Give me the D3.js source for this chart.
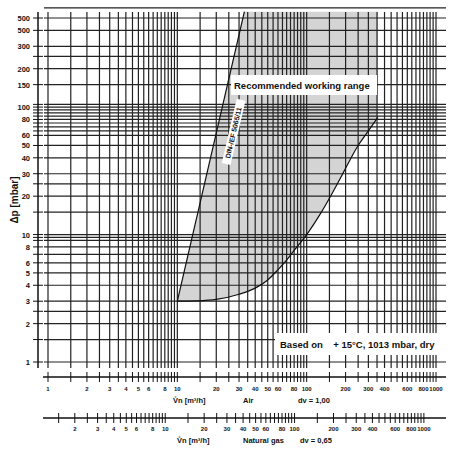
<!DOCTYPE html>
<meta charset="utf-8">
<style>
body { margin: 0; background: #fff; }
text { font-family: "Liberation Sans", Arial, sans-serif; font-weight: bold; fill: #111; }
.grid line { stroke: #222; stroke-width: 1.2px; }
</style>
<body>
<script src="https://d3js.org/d3.v7.min.js"></script>
<script>

// y tick labels (as printed) and their values
var yTickVals = [1, 2, 3, 4, 5, 6, 8, 10, 20, 30, 40, 50, 60, 80, 100, 150, 200, 300, 400, 500];
var yTickText = ["1", "2", "3", "4", "5", "6", "8", "10", "20", "30", "40", "50", "60", "80", "100", "150", "200", "300", "500", "500"];
// horizontal grid values
var yGrid = [1, 1.5, 2, 2.5, 3, 4, 5, 6, 7, 8, 9, 9.5, 10, 15, 20, 25, 30, 40, 50, 60, 65, 70, 75, 80, 85, 90, 95, 100, 105, 150, 200, 250, 300, 400, 500, 600];
// vertical grid mantissas per decade
var xMant = [1, 1.5, 2, 2.5, 3, 3.5, 4, 4.5, 5, 5.5, 6, 6.5, 7, 7.5, 8, 8.5, 9, 9.5];
var airTicks = [1, 2, 3, 4, 5, 6, 8, 10, 20, 30, 40, 50, 60, 80, 100, 200, 300, 400, 600, 800, 1000];
var gasTicks = [2, 3, 4, 5, 6, 8, 10, 20, 30, 40, 50, 60, 80, 100, 200, 300, 400, 600, 800, 1000];
var gasFactor = 0.806; // sqrt(0.65)

// working range: left limit line, lower curve, right edge
var leftLine = [[10, 3], [33, 560]];
var lowerCurve = [[10, 3], [14, 3.02], [20, 3.1], [30, 3.4], [40, 3.8], [50, 4.4], [60, 5.3], [70, 6.3], [80, 7.5], [100, 10], [130, 15], [180, 27], [250, 50], [300, 65], [355, 83]];
var topVal = 560, rightVal = 355;

var svg = d3.select("body").append("svg").attr("width", 461).attr("height", 451);

var x = d3.scaleLog().domain([1, 1000]).range([48, 436]);
var y = d3.scaleLog().domain([1, 500]).range([362, 18]);
var xR = [44, 446];

// shaded region
svg.append("path")
  .attr("d", d3.line().x(d => x(d[0])).y(d => y(d[1]))(leftLine.concat([[rightVal, topVal]], lowerCurve.slice().reverse())))
  .attr("fill", "#d4d4d4");

// grid
var g = svg.append("g").attr("class", "grid");
var xGrid = [];
[1, 10, 100].forEach(function(d) { xMant.forEach(function(m) { xGrid.push(m * d); }); });
xGrid.push(1000);
g.selectAll(".v").data(xGrid).enter().append("line")
  .attr("x1", d => x(d)).attr("x2", d => x(d)).attr("y1", 12).attr("y2", 368);
g.selectAll(".h").data(yGrid).enter().append("line")
  .attr("x1", xR[0]).attr("x2", xR[1]).attr("y1", d => y(d)).attr("y2", d => y(d));

// boundary lines
var line = d3.line().x(d => x(d[0])).y(d => y(d[1]));
svg.append("path").attr("d", line(leftLine)).attr("fill", "none").attr("stroke", "#111").attr("stroke-width", 1.2);
svg.append("path").attr("d", d3.line().curve(d3.curveMonotoneX).x(d => x(d[0])).y(d => y(d[1]))(lowerCurve))
  .attr("fill", "none").attr("stroke", "#111").attr("stroke-width", 1.2);

// y axis
svg.append("line").attr("x1", 38).attr("x2", 38).attr("y1", 12).attr("y2", 368).attr("stroke", "#111").attr("stroke-width", 1.5);
svg.selectAll(".yt").data(yGrid.filter(d => d <= 500)).enter().append("line")
  .attr("x1", 33).attr("x2", 43).attr("y1", d => y(d)).attr("y2", d => y(d)).attr("stroke", "#111");
svg.selectAll(".yl").data(yTickVals).enter().append("text")
  .attr("x", 30).attr("y", d => y(d) + 3).attr("text-anchor", "end").attr("font-size", 7.5)
  .text((d, i) => yTickText[i]);
svg.append("text").attr("transform", "translate(18,200) rotate(-90)").attr("text-anchor", "middle")
  .attr("font-size", 10).text("Δp [mbar]");

// air axis
var ax = svg.append("g");
ax.append("line").attr("x1", 43).attr("x2", 446).attr("y1", 377).attr("y2", 377).attr("stroke", "#111").attr("stroke-width", 1.5);
ax.selectAll("line.t").data(xGrid).enter().append("line")
  .attr("x1", d => x(d)).attr("x2", d => x(d)).attr("y1", 372).attr("y2", 382).attr("stroke", "#111");
ax.selectAll("text").data(airTicks).enter().append("text")
  .attr("x", d => x(d)).attr("y", 391).attr("text-anchor", "middle").attr("font-size", 6).text(d => d);
svg.append("text").attr("x", 173).attr("y", 403).attr("font-size", 7.5).text("V̊n [m³/h]");
svg.append("text").attr("x", 243).attr("y", 403).attr("font-size", 7.5).text("Air");
svg.append("text").attr("x", 298).attr("y", 403).attr("font-size", 7.5).text("dv = 1,00");

// natural gas axis
var gx = d3.scaleLog().domain([1 / gasFactor, 1000 / gasFactor]).range([48, 436]);
var gasGrid = xGrid.filter(d => d >= 1.5 && d <= 1000);
svg.append("line").attr("x1", 43).attr("x2", 446).attr("y1", 418).attr("y2", 418).attr("stroke", "#111").attr("stroke-width", 1.5);
svg.selectAll("line.gt").data(gasGrid).enter().append("line")
  .attr("x1", d => gx(d)).attr("x2", d => gx(d)).attr("y1", 413).attr("y2", 423).attr("stroke", "#111");
svg.selectAll("text.gl").data(gasTicks).enter().append("text")
  .attr("x", d => gx(d)).attr("y", 431).attr("text-anchor", "middle").attr("font-size", 6).text(d => d);
svg.append("text").attr("x", 177).attr("y", 443).attr("font-size", 7.5).text("V̊n [m³/h]");
svg.append("text").attr("x", 243).attr("y", 443).attr("font-size", 7.5).text("Natural gas");
svg.append("text").attr("x", 300).attr("y", 443).attr("font-size", 7.5).text("dv = 0,65");

// labels
svg.append("rect").attr("x", 231).attr("y", 75).attr("width", 146).attr("height", 20).attr("fill", "#fff");
svg.append("text").attr("x", 234).attr("y", 89).attr("font-size", 9.5).text("Recommended working range");
svg.append("rect").attr("x", 275).attr("y", 333).attr("width", 175).attr("height", 22).attr("fill", "#fff");
svg.append("text").attr("x", 280).attr("y", 348).attr("font-size", 9.5).attr("xml:space", "preserve").text("Based on    + 15°C, 1013 mbar, dry");
var ang = Math.atan2(y(leftLine[1][1]) - y(leftLine[0][1]), x(leftLine[1][0]) - x(leftLine[0][0])) * 180 / Math.PI;
svg.append("rect").attr("transform", "translate(230,132) rotate(" + ang + ")").attr("x", -32).attr("y", -1).attr("width", 66).attr("height", 9).attr("fill", "#fff");
svg.append("text").attr("transform", "translate(230,132) rotate(" + ang + ")").attr("x", 0).attr("y", 6)
  .attr("text-anchor", "middle").attr("font-size", 7).attr("font-weight", "normal").text("DIN-/EF 5065/11");

</script>
</body>
